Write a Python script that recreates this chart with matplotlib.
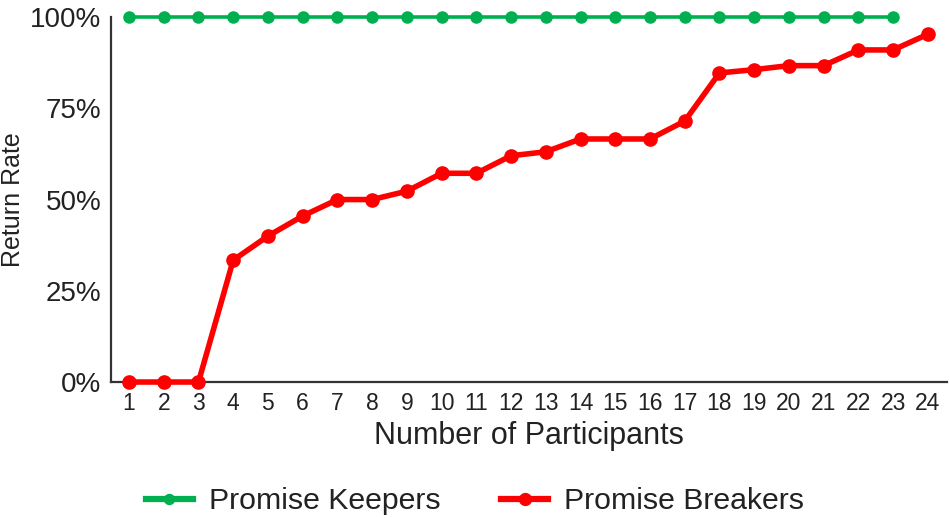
import matplotlib
matplotlib.use("Agg")
import matplotlib.pyplot as plt
from matplotlib.ticker import PercentFormatter

participants = list(range(1, 25))
keepers_x = list(range(1, 24))
keepers = [1.0] * 23
breakers = [0.0, 0.0, 0.0, 0.334, 0.40, 0.455, 0.50, 0.50, 0.523, 0.572, 0.572,
            0.62, 0.631, 0.666, 0.666, 0.666, 0.715, 0.847, 0.856, 0.867, 0.867,
            0.91, 0.91, 0.953]
y_ticks = [0, 0.25, 0.5, 0.75, 1.0]

plt.rcParams['font.family'] = ['Liberation Sans', 'DejaVu Sans']

fig = plt.figure(figsize=(9.5, 5.18), dpi=100)
ax = fig.add_axes([0.1168, 0.2625, 0.880, 0.7045])

ax.plot(keepers_x, keepers, color='#00B050', lw=2.6, marker='o', ms=8,
        label='Promise Keepers', clip_on=False, zorder=3)
ax.plot(participants, breakers, color='#FF0000', lw=4.0, marker='o', ms=9.5,
        label='Promise Breakers', clip_on=False, zorder=4)

ax.set_xlim(0.48, 24.55)
ax.set_ylim(0, 1)
ax.set_xticks(participants)
ax.set_yticks(y_ticks)
ax.yaxis.set_major_formatter(PercentFormatter(1.0, decimals=0))
ax.tick_params(axis='x', length=0, labelsize=16.5, pad=7, colors='#222222')
ax.tick_params(axis='y', length=0, labelsize=20, pad=7, colors='#222222')
for s in ['top', 'right']:
    ax.spines[s].set_visible(False)
for s in ['left', 'bottom']:
    ax.spines[s].set_color('#333333')
    ax.spines[s].set_linewidth(1.6)

ax.set_xlabel('Number of Participants', fontsize=22, color='#222222')
ax.xaxis.set_label_coords(0.5, -0.108)
ax.set_ylabel('Return Rate', fontsize=18, color='#222222', va='center')
ax.yaxis.set_label_coords(-0.117, 0.5)

leg = fig.legend(loc='center', bbox_to_anchor=(0.5, 0.032), ncol=2,
                 frameon=False, fontsize=21.8, handlelength=1.55, columnspacing=2.0,
                 handletextpad=0.53, markerscale=0.9)
for h in leg.legend_handles:
    h.set_linewidth(4.5)
for t in leg.get_texts():
    t.set_color('#222222')

fig.savefig('out.png', dpi=100)
